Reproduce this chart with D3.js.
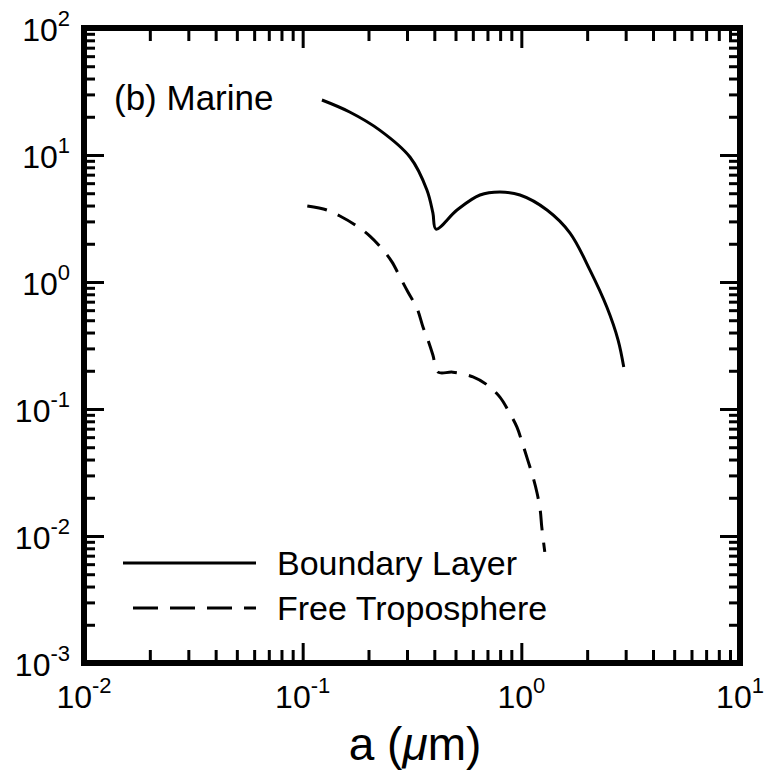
<!DOCTYPE html>
<html>
<head>
<meta charset="utf-8">
<script src="https://cdn.jsdelivr.net/npm/d3@7"></script>
<style>
  body { margin: 0; background: #fff; }
  text { font-family: "Liberation Sans", Arial, sans-serif; fill: #000; }
</style>
</head>
<body>
<div class="chart-container"></div>
<script>
// boundary layer (solid) : radius in um, value
const blRadius = [0.1225, 0.164, 0.225, 0.310, 0.370, 0.394, 0.407, 0.508, 0.647, 0.798, 0.986, 1.31, 1.67, 2.06, 2.46, 2.77, 2.94];
const blValue  = [27.1, 21.8, 15.7, 9.6, 5.3, 3.5, 2.61, 3.69, 4.84, 5.11, 4.84, 3.69, 2.43, 1.24, 0.635, 0.349, 0.214];

// free troposphere (dashed)
const ftRadius = [0.105, 0.129, 0.148, 0.177, 0.203, 0.231, 0.256, 0.279, 0.303, 0.333, 0.355, 0.374, 0.394, 0.416, 0.486, 0.601, 0.697, 0.798, 0.869, 0.955, 1.007, 1.07, 1.13, 1.18, 1.22, 1.24, 1.28];
const ftValue  = [3.97, 3.69, 3.31, 2.76, 2.30, 1.82, 1.44, 1.09, 0.834, 0.624, 0.442, 0.349, 0.266, 0.195, 0.195, 0.179, 0.155, 0.124, 0.098, 0.072, 0.055, 0.0396, 0.0292, 0.0218, 0.0160, 0.0118, 0.0075];

const xExponents = [-2, -1, 0, 1];
const yExponents = [-3, -2, -1, 0, 1, 2];
const legendNames = ["Boundary Layer", "Free Troposphere"];
const panelLabel = "(b) Marine";

const chartWidth = 772, chartHeight = 771;
const plotLeft = 84, plotRight = 740, plotTop = 28, plotBottom = 663;

const svg = d3.select(".chart-container").append("svg")
  .attr("width", chartWidth)
  .attr("height", chartHeight);

const xScale = d3.scaleLog().domain([1e-2, 1e1]).range([plotLeft, plotRight]);
const yScale = d3.scaleLog().domain([1e-3, 1e2]).range([plotBottom, plotTop]);

// minor ticks 2..9 per decade
const minorX = [], minorY = [];
for (let e = -2; e < 1; e++) for (let m = 2; m <= 9; m++) minorX.push(m * Math.pow(10, e));
for (let e = -3; e < 2; e++) for (let m = 2; m <= 9; m++) minorY.push(m * Math.pow(10, e));
const majorX = xExponents.map(e => Math.pow(10, e));
const majorY = yExponents.map(e => Math.pow(10, e));

function tickAxis(axisFn, scale, values, size, transform) {
  const g = svg.append("g")
    .attr("transform", transform)
    .call(axisFn(scale).tickValues(values).tickSize(size).tickFormat(""));
  g.select(".domain").remove();
  g.selectAll(".tick line").attr("stroke", "#000").attr("stroke-width", 3);
}

// inward ticks on all four sides
tickAxis(d3.axisBottom, xScale, majorX, -20, `translate(0,${plotBottom})`);
tickAxis(d3.axisBottom, xScale, minorX, -13, `translate(0,${plotBottom})`);
tickAxis(d3.axisTop, xScale, majorX, -20, `translate(0,${plotTop})`);
tickAxis(d3.axisTop, xScale, minorX, -13, `translate(0,${plotTop})`);
tickAxis(d3.axisLeft, yScale, majorY, -20, `translate(${plotLeft},0)`);
tickAxis(d3.axisLeft, yScale, minorY, -11, `translate(${plotLeft},0)`);
tickAxis(d3.axisRight, yScale, majorY, -20, `translate(${plotRight},0)`);
tickAxis(d3.axisRight, yScale, minorY, -11, `translate(${plotRight},0)`);

// frame
svg.append("rect")
  .attr("x", plotLeft).attr("y", plotTop)
  .attr("width", plotRight - plotLeft).attr("height", plotBottom - plotTop)
  .attr("fill", "none")
  .attr("stroke", "#000")
  .attr("stroke-width", 6);

// tick labels with superscripts
function powerLabel(sel) {
  sel.append("tspan").text("10");
  sel.append("tspan").attr("dy", -15).style("font-size", "22px").text(d => d);
}

svg.selectAll(".xlabel")
  .data(xExponents)
  .enter().append("text")
  .attr("class", "xlabel")
  .attr("x", d => xScale(Math.pow(10, d)))
  .attr("y", plotBottom + 45)
  .attr("text-anchor", "middle")
  .style("font-size", "32px")
  .call(powerLabel);

svg.selectAll(".ylabel")
  .data(yExponents)
  .enter().append("text")
  .attr("class", "ylabel")
  .attr("x", plotLeft - 14)
  .attr("y", d => yScale(Math.pow(10, d)) + 13)
  .attr("text-anchor", "end")
  .style("font-size", "32px")
  .call(powerLabel);

// x axis title
const title = svg.append("text")
  .attr("x", 415)
  .attr("y", 760)
  .attr("text-anchor", "middle")
  .style("font-size", "46px");
title.append("tspan").text("a (");
title.append("tspan").style("font-style", "italic").text("\u03bc");
title.append("tspan").text("m)");

// panel label
svg.append("text")
  .attr("x", 114)
  .attr("y", 110)
  .style("font-size", "35px")
  .text(panelLabel);

// curves
const line = d3.line()
  .x(d => xScale(d[0]))
  .y(d => yScale(d[1]))
  .curve(d3.curveCatmullRom.alpha(0.5));

const blData = blRadius.map((r, i) => [r, blValue[i]]);
const ftData = ftRadius.map((r, i) => [r, ftValue[i]]);

svg.append("path")
  .datum(blData)
  .attr("d", line)
  .attr("fill", "none")
  .attr("stroke", "#000")
  .attr("stroke-width", 3);

svg.append("path")
  .datum(ftData)
  .attr("d", line)
  .attr("fill", "none")
  .attr("stroke", "#000")
  .attr("stroke-width", 3)
  .attr("stroke-dasharray", "20,12");

// legend
const legend = svg.append("g");
const legendY = [563, 608];
const legendDash = [null, "25,12"];
legend.selectAll("line")
  .data(legendNames)
  .enter().append("line")
  .attr("x1", (d, i) => i === 0 ? 123 : 133)
  .attr("x2", 256)
  .attr("y1", (d, i) => legendY[i])
  .attr("y2", (d, i) => legendY[i])
  .attr("stroke", "#000")
  .attr("stroke-width", 3)
  .attr("stroke-dasharray", (d, i) => legendDash[i]);

legend.selectAll("text")
  .data(legendNames)
  .enter().append("text")
  .attr("x", 277)
  .attr("y", (d, i) => legendY[i] + 12)
  .style("font-size", "34px")
  .text(d => d);
</script>
</body>
</html>
